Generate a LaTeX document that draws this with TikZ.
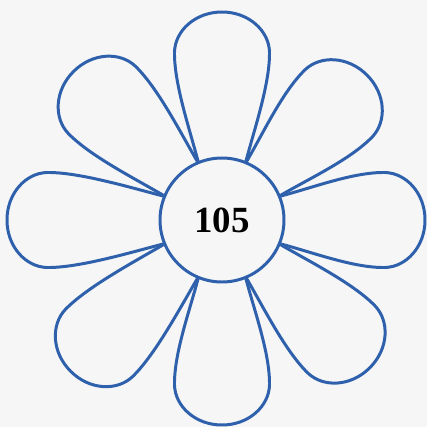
\documentclass[tikz,border=0pt]{standalone}
\usepackage{xcolor}
\usepackage{fontspec}
\setmainfont{Liberation Serif}
\usepackage{tikz}
\definecolor{petalblue}{RGB}{46,96,172}
\definecolor{paper}{RGB}{246,246,246}
\tikzset{
    flower/.style={line width=0.85pt, draw=petalblue},
    petal line/.style={flower, fill=paper, line join=round},
    heart/.style={flower, circle, fill=paper, minimum size=1.24cm, inner sep=0pt,
        font=\fontsize{10.5}{12}\selectfont\bfseries},
}
\begin{document}
\begin{tikzpicture}
    \useasboundingbox[fill=paper] (-2.22,-2.07) rectangle (2.05,2.20);

    % petals: angle / length of the petal
    \foreach \a/\l in {0/2.03, 45/2.05, 90/2.08, 135/2.10, 180/2.15, 225/2.14, 270/2.05, 315/2.09} {
        \draw[petal line, rotate=\a]
            (0.57,-0.235) .. controls (0.9,-0.32) and ({\l-0.72},-0.48) .. ({\l-0.4},-0.475)
            .. controls ({\l-0.19},-0.47) and (\l,-0.27) .. (\l,0)
            .. controls (\l,0.27) and ({\l-0.19},0.47) .. ({\l-0.4},0.475)
            .. controls ({\l-0.72},0.48) and (0.9,0.32) .. (0.57,0.235);
    }

    \node[heart] (centre) at (0,0) {105};
\end{tikzpicture}
\end{document}
